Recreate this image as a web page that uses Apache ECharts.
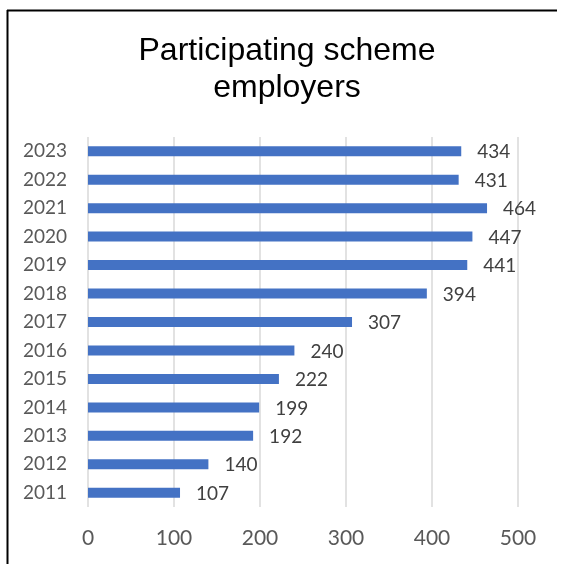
<!DOCTYPE html>
<html><head><meta charset="utf-8">
<script src="https://cdn.jsdelivr.net/npm/echarts@6/dist/echarts.min.js"></script>
<style>html,body{margin:0;padding:0;background:#fff}#c{width:562px;height:564px}</style>
</head><body><div id="c"></div>
<script>
const categories = ['2011','2012','2013','2014','2015','2016','2017','2018','2019','2020','2021','2022','2023'];
const values = [107,140,192,199,222,240,307,394,441,447,464,431,434];
const titleText = 'Participating scheme\nemployers';
const font = 'Lato, "Open Sans", sans-serif';
const chart = echarts.init(document.getElementById('c'), null, {renderer:'canvas'});
chart.setOption({
  animation:false,
  backgroundColor:'#fff',
  title:{text:titleText,left:282,top:28,textAlign:'center',
    textStyle:{fontFamily:'Arial, "Liberation Sans", sans-serif',fontSize:32,fontWeight:'normal',color:'#000',lineHeight:37}},
  graphic:[
    {type:'line',shape:{x1:7.5,y1:10,x2:7.5,y2:564},style:{stroke:'#000',lineWidth:2}},
    {type:'line',shape:{x1:7,y1:10.5,x2:557,y2:10.5},style:{stroke:'#000',lineWidth:2}}
  ],
  grid:{left:88,right:44,top:137,bottom:57,containLabel:false},
  xAxis:{type:'value',min:0,max:500,interval:100,
    axisLine:{show:false},axisTick:{show:false},
    splitLine:{show:true,lineStyle:{color:'#d9d9d9',width:1.5}},
    axisLabel:{color:'#595959',fontSize:21,fontFamily:font,margin:21}},
  yAxis:{type:'category',data:categories,
    axisLine:{show:false},axisTick:{show:false},
    axisLabel:{color:'#595959',fontSize:19,fontFamily:font,margin:21}},
  series:[{type:'bar',data:values,barWidth:10,
    itemStyle:{color:'#4472c4'},
    label:{show:true,position:'right',distance:16,offset:[0,1],color:'#404040',fontSize:19,fontFamily:font}}]
});
</script></body></html>
